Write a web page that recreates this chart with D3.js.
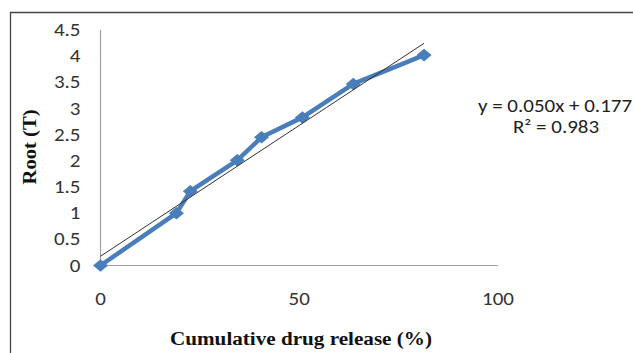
<!DOCTYPE html>
<html><head><meta charset="utf-8">
<script src="https://cdn.jsdelivr.net/npm/d3@7"></script>
<style>body{margin:0;background:#fff}svg{display:block}</style>
</head><body>
<svg id="c" width="633" height="353"></svg>
<script>
const xValues = [0, 19.1, 22.6, 34.4, 40.5, 50.8, 63.6, 81.4];
const yValues = [0, 1.0, 1.42, 2.01, 2.45, 2.83, 3.47, 4.02];
const xTicks = [0, 50, 100];
const yTicks = [0, 0.5, 1, 1.5, 2, 2.5, 3, 3.5, 4, 4.5];
const slope = 0.050, intercept = 0.177;
const eqLabel = "y = 0.050x + 0.177";
const r2Label = "R² = 0.983";
const xTitle = "Cumulative drug release (%)";
const yTitle = "Root (T)";

const svg = d3.select("#c");
const x = d3.scaleLinear().domain([0, 100]).range([100.5, 498]);
const y = d3.scaleLinear().domain([0, 4.5]).range([265.5, 30]);
const sans = "Carlito, 'Open Sans', 'Liberation Sans', sans-serif";
const serif = "'Liberation Serif', 'Times New Roman', serif";
const SX = 1.2; // horizontal stretch of the original picture

// outer border
svg.append("path").attr("d", "M10.5,353 V12.5 H633").attr("fill","none").attr("stroke","#444").attr("stroke-width",1.3);

// axes lines
svg.append("line").attr("x1", x(0)).attr("x2", x(0)).attr("y1", y(4.5)).attr("y2", y(0)).attr("stroke","#a0a0a0").attr("stroke-width",1.2);
svg.append("line").attr("x1", x(0)).attr("x2", x(100)).attr("y1", y(0)).attr("y2", y(0)).attr("stroke","#a0a0a0").attr("stroke-width",1.2);

function label(g, px, py, anchor, txt, size) {
  return g.append("text")
    .attr("transform", `translate(${px},${py}) scale(${SX},1)`)
    .attr("text-anchor", anchor)
    .attr("font-family", sans).attr("font-size", size).attr("fill", "#333").text(txt);
}

// y tick labels
const gy = svg.append("g");
yTicks.forEach(d => label(gy, 80.5, y(d) + 6, "end", d, 17.5));
// x tick labels
const gx = svg.append("g");
xTicks.forEach(d => label(gx, x(d), 305, "middle", d, 17.5));

// data line
const pts = xValues.map((v,i)=>[v, yValues[i]]);
svg.append("path").datum(pts)
  .attr("d", d3.line().x(d=>x(d[0])).y(d=>y(d[1])))
  .attr("fill","none").attr("stroke","#4a7ebb").attr("stroke-width",4.5).attr("stroke-linejoin","round");
// markers
svg.append("g").selectAll("path").data(pts).join("path")
  .attr("transform", d => `translate(${x(d[0])},${y(d[1])}) scale(${SX},1)`)
  .attr("d", d3.symbol().type(d3.symbolDiamond2).size(100))
  .attr("fill","#4a7ebb");

// trend line
const xMin = d3.min(xValues), xMax = d3.max(xValues);
svg.append("line")
  .attr("x1", x(xMin)).attr("y1", y(slope*xMin+intercept))
  .attr("x2", x(xMax)).attr("y2", y(slope*xMax+intercept))
  .attr("stroke","#333").attr("stroke-width",1);

// equation
const ge = svg.append("g");
label(ge, 555, 112, "middle", eqLabel, 17.5).attr("fill","#222");
label(ge, 556, 133, "middle", r2Label, 17.5).attr("fill","#222");

// axis titles
svg.append("text").attr("x", 301).attr("y", 345).attr("text-anchor","middle")
  .attr("font-family", serif).attr("font-weight","bold")
  .attr("font-size",18.5).attr("fill","#111")
  .attr("textLength", 262).attr("lengthAdjust","spacingAndGlyphs").text(xTitle);
svg.append("text").attr("transform","translate(36,147) rotate(-90)").attr("text-anchor","middle")
  .attr("font-family", serif).attr("font-weight","bold")
  .attr("font-size",18.5).attr("fill","#111")
  .attr("textLength", 75).attr("lengthAdjust","spacingAndGlyphs").text(yTitle);
</script>
</body></html>
